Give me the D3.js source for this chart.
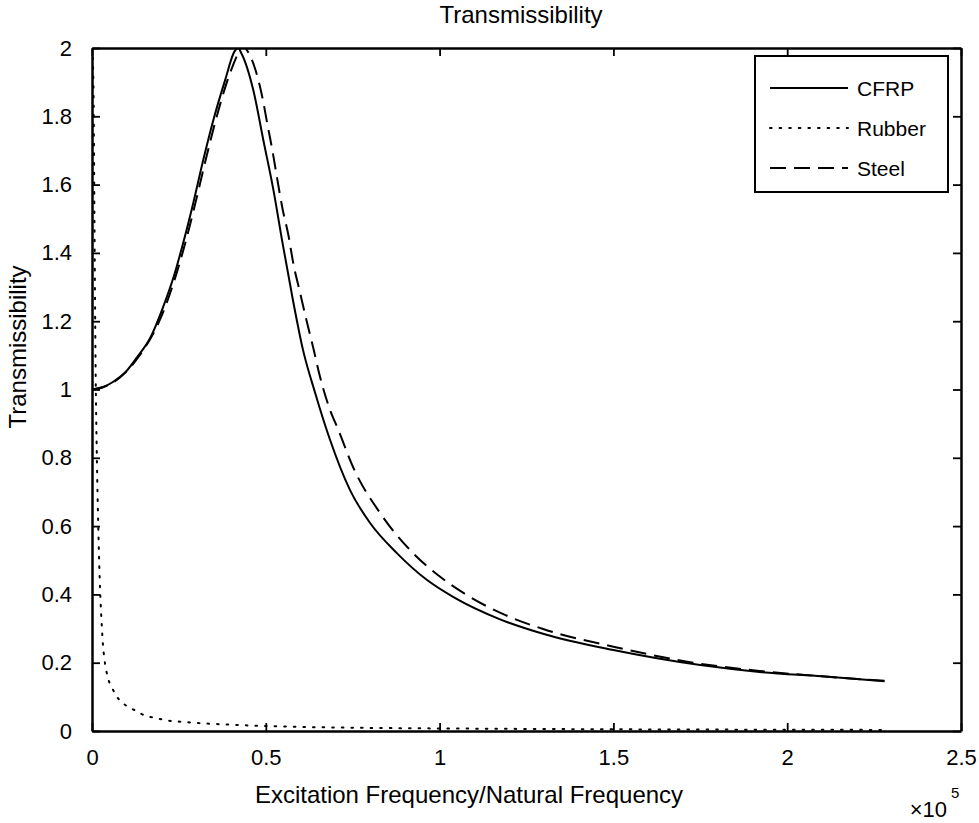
<!DOCTYPE html>
<html><head><meta charset="utf-8">
<script src="https://cdn.jsdelivr.net/npm/d3@7"></script>
<style>
html,body{margin:0;padding:0;background:#fff;}
svg{display:block;font-family:"Liberation Sans",Arial,Helvetica,sans-serif;}
</style></head>
<body>
<svg id="chart" width="979" height="823"></svg>
<script>
// x values in units of 1e5
const cfrpX = [0,0.03,0.06,0.1,0.13,0.167,0.204,0.235,0.26,0.29,0.32,0.348,0.383,0.41,0.42,0.43,0.464,0.493,0.522,0.548,0.578,0.607,0.642,0.685,0.742,0.8,0.877,0.964,1.04,1.174,1.3,1.5,1.75,1.92,2.1,2.28];
const cfrpY = [1.0,1.006,1.022,1.055,1.095,1.15,1.24,1.33,1.42,1.54,1.672,1.785,1.906,1.99,2.0,1.984,1.877,1.73,1.584,1.43,1.262,1.116,0.99,0.852,0.706,0.609,0.521,0.442,0.392,0.327,0.284,0.237,0.193,0.173,0.16,0.146];
const steelX = [0,0.06,0.13,0.204,0.266,0.296,0.327,0.355,0.39,0.418,0.432,0.445,0.469,0.49,0.504,0.519,0.533,0.548,0.565,0.579,0.598,0.617,0.637,0.656,0.68,0.711,0.751,0.829,0.915,1.01,1.08,1.188,1.3,1.5,1.75,1.92,2.1,2.28];
const steelY = [1.0,1.02,1.09,1.225,1.42,1.54,1.672,1.785,1.906,1.98,2.01,1.995,1.94,1.856,1.78,1.70,1.616,1.53,1.452,1.37,1.286,1.203,1.12,1.037,0.954,0.876,0.773,0.638,0.53,0.445,0.397,0.34,0.298,0.247,0.197,0.176,0.16,0.147];
const rubberX = [0,0.004,0.007,0.01,0.014,0.018,0.022,0.027,0.032,0.035,0.046,0.058,0.072,0.1,0.127,0.155,0.184,0.21,0.27,0.41,0.6,0.8,1.0,1.5,2.0,2.28];
const rubberY = [2.0,1.9,1.5,1.1,0.8,0.6,0.45,0.33,0.246,0.217,0.155,0.126,0.1,0.073,0.059,0.044,0.038,0.032,0.026,0.018,0.012,0.009,0.0075,0.005,0.0037,0.0032];
const xTicks = [0,0.5,1,1.5,2,2.5];
const xTickLabels = ["0","0.5","1","1.5","2","2.5"];
const yTicks = [0,0.2,0.4,0.6,0.8,1,1.2,1.4,1.6,1.8,2];
const yTickLabels = ["0","0.2","0.4","0.6","0.8","1","1.2","1.4","1.6","1.8","2"];
const seriesNames = ["CFRP","Rubber","Steel"];

const svg = d3.select("#chart");
const L = 92, R = 961, T = 48, B = 731;
const x = d3.scaleLinear().domain([0,2.5]).range([L,R]);
const y = d3.scaleLinear().domain([0,2]).range([B,T]);

svg.append("defs").append("clipPath").attr("id","clip")
  .append("rect").attr("x",L).attr("y",T).attr("width",R-L).attr("height",B-T);

const DOT = "1.6,8";
const series = [
  {name:seriesNames[0], xs:cfrpX, ys:cfrpY, dash:null},
  {name:seriesNames[1], xs:rubberX, ys:rubberY, dash:DOT},
  {name:seriesNames[2], xs:steelX, ys:steelY, dash:"16,8"}
];
const line = d3.line().x(d=>x(d[0])).y(d=>y(d[1])).curve(d3.curveMonotoneX);
const g = svg.append("g").attr("clip-path","url(#clip)");
series.forEach(s=>{
  const pts = s.xs.map((v,i)=>[v,s.ys[i]]);
  g.append("path").attr("d",line(pts)).attr("fill","none").attr("stroke","#000")
   .attr("stroke-width",2)
   .attr("stroke-dasharray", s.dash).attr("stroke-linecap", s.dash===DOT?"round":"butt");
});

// axes (box)
const tl = 8;
const axB = svg.append("g").attr("transform",`translate(0,${B})`)
  .call(d3.axisBottom(x).tickValues(xTicks).tickFormat((d,i)=>xTickLabels[i]).tickSizeInner(-tl).tickSizeOuter(0).tickPadding(18));
const axT = svg.append("g").attr("transform",`translate(0,${T})`)
  .call(d3.axisTop(x).tickValues(xTicks).tickFormat("").tickSizeInner(-tl).tickSizeOuter(0));
const axL = svg.append("g").attr("transform",`translate(${L},0)`)
  .call(d3.axisLeft(y).tickValues(yTicks).tickFormat((d,i)=>yTickLabels[i]).tickSizeInner(-tl).tickSizeOuter(0).tickPadding(20));
const axR = svg.append("g").attr("transform",`translate(${R},0)`)
  .call(d3.axisRight(y).tickValues(yTicks).tickFormat("").tickSizeInner(-tl).tickSizeOuter(0));
[axB,axT,axL,axR].forEach(a=>{
  a.select(".domain").attr("stroke","#000").attr("stroke-width",2.5);
  a.selectAll(".tick line").attr("stroke","#000").attr("stroke-width",1.8);
  a.selectAll("text").attr("font-size",22).attr("fill","#000").attr("font-family","Liberation Sans, Arial, sans-serif");
});
axB.selectAll(".tick text").attr("dy","0.71em").attr("y",18);

// title & labels
svg.append("text").attr("x",521).attr("y",23).attr("text-anchor","middle")
  .attr("font-size",24).text("Transmissibility");
svg.append("text").attr("x",469).attr("y",803).attr("text-anchor","middle")
  .attr("font-size",24).text("Excitation Frequency/Natural Frequency");
svg.append("text").attr("transform","translate(26,347) rotate(-90)").attr("text-anchor","middle")
  .attr("font-size",24).text("Transmissibility");
svg.append("text").attr("x",947).attr("y",817).attr("text-anchor","end")
  .attr("font-size",22).text("\u00D710");
svg.append("text").attr("x",951).attr("y",798).attr("font-size",15).text("5");

// legend
const lg = svg.append("g");
lg.append("rect").attr("x",755).attr("y",56).attr("width",193).attr("height",136)
  .attr("fill","#fff").attr("stroke","#000").attr("stroke-width",2);
const ly = [88,128,168];
series.forEach((s,i)=>{
  lg.append("line").attr("x1",770).attr("x2",848).attr("y1",ly[i]).attr("y2",ly[i])
    .attr("stroke","#000").attr("stroke-width",2).attr("stroke-dasharray",s.dash)
    .attr("stroke-linecap", s.dash===DOT?"round":"butt");
  lg.append("text").attr("x",857).attr("y",ly[i]).attr("dy","0.36em").attr("font-size",21).text(s.name);
});
</script>
</body></html>
